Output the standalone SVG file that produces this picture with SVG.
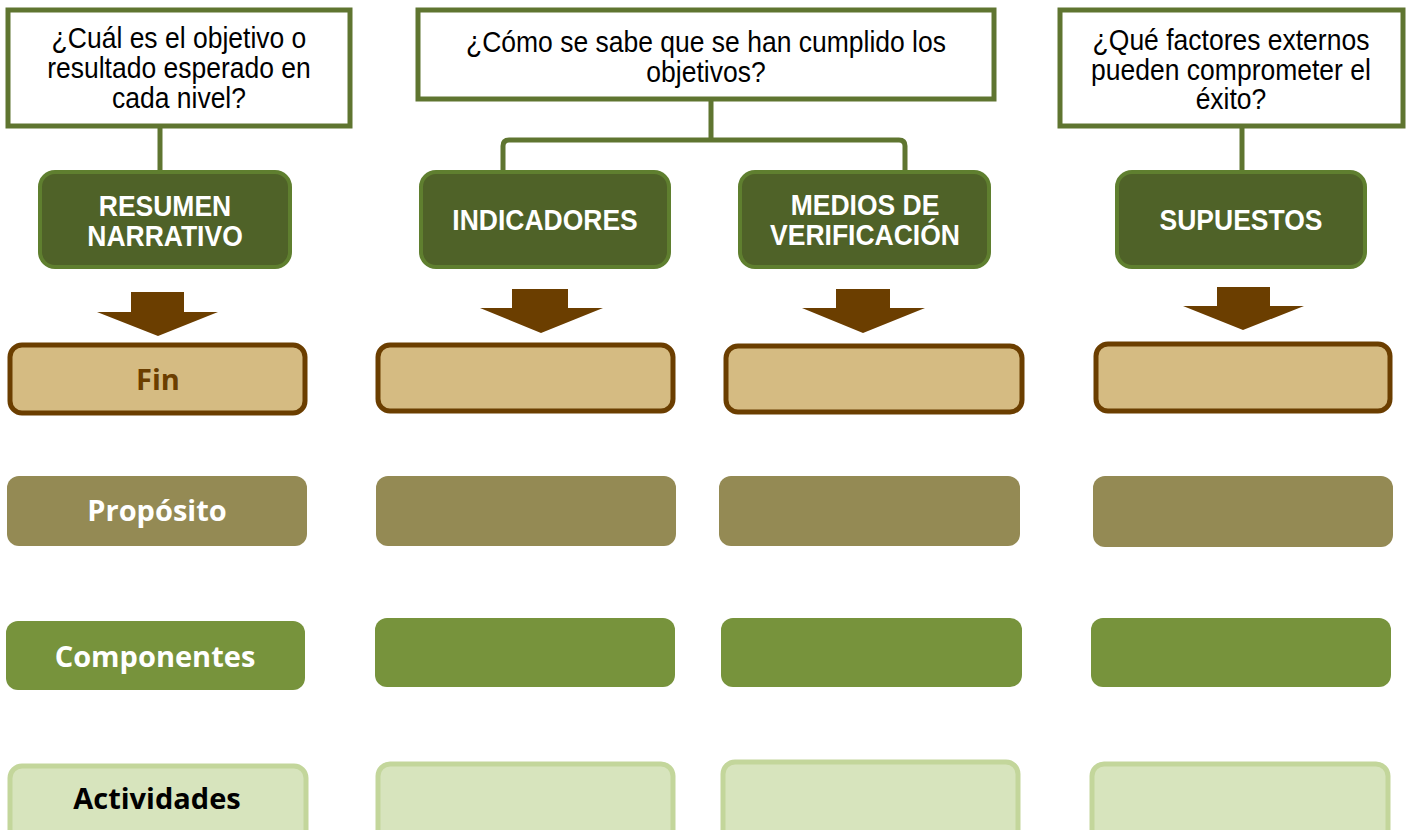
<svg xmlns="http://www.w3.org/2000/svg" width="1409" height="830" viewBox="0 0 1409 830">
<style>
.q{fill:#fff;stroke:#5f7530;stroke-width:5}
.qt{font-family:"Liberation Sans",Arial,sans-serif;font-size:26.5px;fill:#000;text-anchor:middle}
.h{fill:#4f6228;stroke:#5f7f2f;stroke-width:4}
.ht{font-family:"Liberation Sans",Arial,sans-serif;font-size:26.5px;font-weight:bold;fill:#fff;text-anchor:middle}
.conn{fill:none;stroke:#5f7530;stroke-width:5}
.arr{fill:#6b3e00}
.fin{fill:#d5bb82;stroke:#6b3e00;stroke-width:5}
.pro{fill:#948a54}
.com{fill:#77933c}
.act{fill:#d7e4bd;stroke:#c3d69b;stroke-width:5}
.lt{font-family:"Open Sans","Noto Sans",sans-serif;font-size:29px;font-weight:bold;text-anchor:middle}
</style>
<g id="connectors">
<path class="conn" d="M160 128 V171"/>
<path class="conn" d="M711 100 V140 M503 172 V146 Q503 140 509 140 H899 Q905 140 905 146 V172"/>
<path class="conn" d="M1242 127 V171"/>
</g>
<g id="q1"><rect class="q" x="8" y="10" width="342" height="116"/>
<text class="qt" transform="translate(0,48) scale(1,1.1)" x="179" y="0">¿Cuál es el objetivo o</text>
<text class="qt" transform="translate(0,78) scale(1,1.1)" x="179" y="0">resultado esperado en</text>
<text class="qt" transform="translate(0,108) scale(1,1.1)" x="179" y="0">cada nivel?</text></g>
<g id="q2"><rect class="q" x="418" y="10" width="576" height="89"/>
<text class="qt" transform="translate(0,52) scale(1,1.1)" x="706" y="0">¿Cómo se sabe que se han cumplido los</text>
<text class="qt" transform="translate(0,82) scale(1,1.1)" x="706" y="0">objetivos?</text></g>
<g id="q3"><rect class="q" x="1060" y="10" width="343" height="116"/>
<text class="qt" transform="translate(0,50) scale(1,1.1)" x="1231" y="0">¿Qué factores externos</text>
<text class="qt" transform="translate(0,80) scale(1,1.1)" x="1231" y="0">pueden comprometer el</text>
<text class="qt" transform="translate(0,109) scale(1,1.1)" x="1231" y="0">éxito?</text></g>
<g id="h1"><rect class="h" x="40" y="172" width="250" height="95" rx="15"/>
<text class="ht" transform="translate(0,216) scale(1,1.1)" x="165" y="0">RESUMEN</text><text class="ht" transform="translate(0,246) scale(1,1.1)" x="165" y="0">NARRATIVO</text></g>
<g id="h2"><rect class="h" x="421" y="172" width="248" height="95" rx="15"/>
<text class="ht" transform="translate(0,230) scale(1,1.1)" x="545" y="0">INDICADORES</text></g>
<g id="h3"><rect class="h" x="740" y="172" width="249" height="95" rx="15"/>
<text class="ht" transform="translate(0,215) scale(1,1.1)" x="865" y="0">MEDIOS DE</text><text class="ht" transform="translate(0,245) scale(1,1.1)" x="865" y="0">VERIFICACIÓN</text></g>
<g id="h4"><rect class="h" x="1117" y="172" width="248" height="95" rx="15"/>
<text class="ht" transform="translate(0,230) scale(1,1.1)" x="1241" y="0">SUPUESTOS</text></g>
<g id="arrows">
<path class="arr" d="M131 292 H184 V312 H218 L158 336 L97 312 H131 Z"/>
<path class="arr" d="M512 289 H568 V308 H603 L541 333 L480 308 H512 Z"/>
<path class="arr" d="M836 289 H890 V308 H925 L863 333 L802 308 H836 Z"/>
<path class="arr" d="M1217 287 H1270 V306 H1304 L1243 330 L1183 306 H1217 Z"/>
</g>
<g id="fin1"><rect class="fin" x="10" y="345" width="295" height="68" rx="12"/>
<text class="lt" x="158" y="390" fill="#6b3e00">Fin</text></g>
<g id="fin2"><rect class="fin" x="378" y="345" width="295" height="66" rx="12"/></g>
<g id="fin3"><rect class="fin" x="726" y="346" width="296" height="66" rx="12"/></g>
<g id="fin4"><rect class="fin" x="1096" y="344" width="294" height="67" rx="12"/></g>
<g id="pro1"><rect class="pro" x="7" y="476" width="300" height="70" rx="12"/>
<text class="lt" x="157" y="521" fill="#fff">Propósito</text></g>
<g id="pro2"><rect class="pro" x="376" y="476" width="300" height="70" rx="12"/></g>
<g id="pro3"><rect class="pro" x="719" y="476" width="301" height="70" rx="12"/></g>
<g id="pro4"><rect class="pro" x="1093" y="476" width="300" height="71" rx="12"/></g>
<g id="com1"><rect class="com" x="6" y="621" width="299" height="69" rx="12"/>
<text class="lt" x="155" y="667" fill="#fff">Componentes</text></g>
<g id="com2"><rect class="com" x="375" y="618" width="300" height="69" rx="12"/></g>
<g id="com3"><rect class="com" x="721" y="618" width="301" height="69" rx="12"/></g>
<g id="com4"><rect class="com" x="1091" y="618" width="300" height="69" rx="12"/></g>
<g id="act1"><rect class="act" x="10" y="766" width="296" height="80" rx="12"/>
<text class="lt" x="157" y="809" fill="#000">Actividades</text></g>
<g id="act2"><rect class="act" x="378" y="764" width="295" height="80" rx="12"/></g>
<g id="act3"><rect class="act" x="723" y="762" width="295" height="80" rx="12"/></g>
<g id="act4"><rect class="act" x="1092" y="764" width="296" height="80" rx="12"/></g>
</svg>
